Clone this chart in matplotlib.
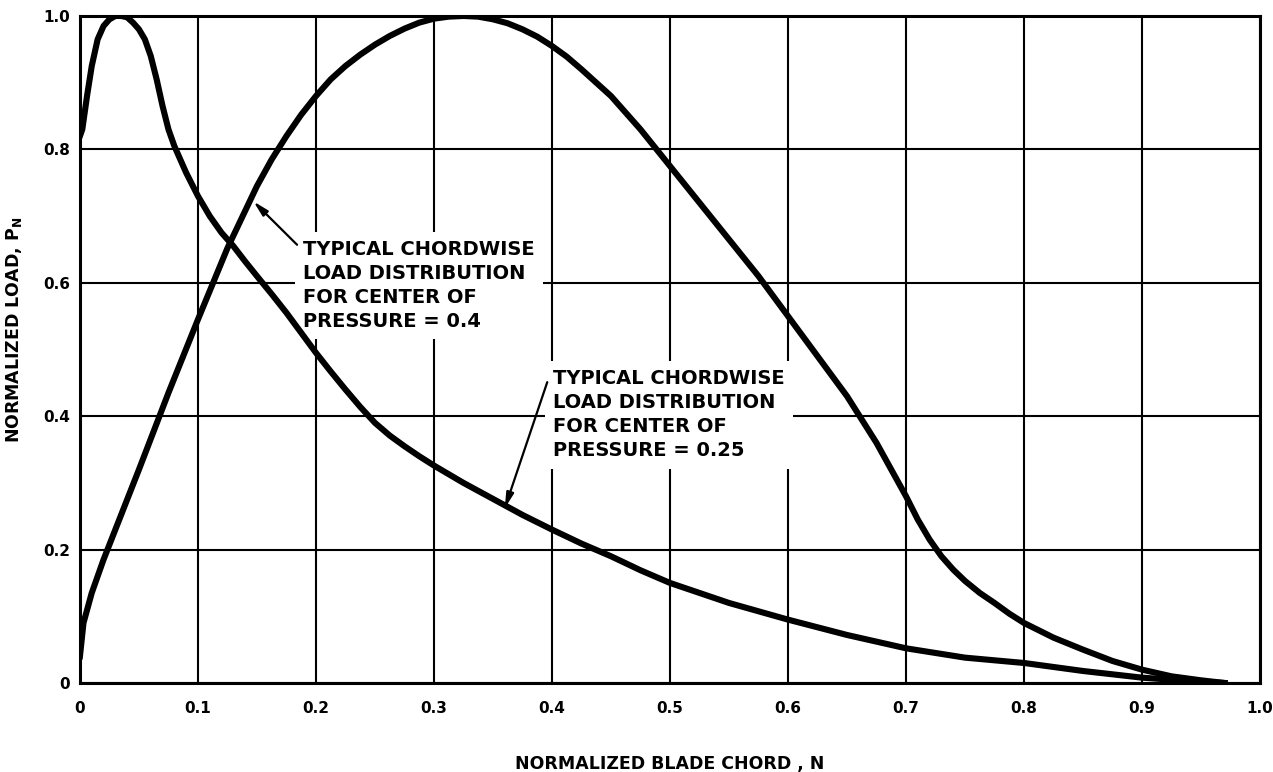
import numpy as np
import matplotlib
matplotlib.use("Agg")
import matplotlib.pyplot as plt

# chordwise load distribution, centre of pressure = 0.25 (front loaded)
x_cp25 = [0, 0.002, 0.006, 0.01, 0.015, 0.02, 0.025, 0.03, 0.035, 0.04, 0.045,
          0.05, 0.055, 0.06, 0.065, 0.07, 0.075, 0.08, 0.09, 0.1, 0.11, 0.12,
          0.13, 0.14, 0.15, 0.1625, 0.175, 0.1875, 0.2, 0.2125, 0.225, 0.2375,
          0.25, 0.2625, 0.275, 0.2875, 0.3, 0.325, 0.35, 0.375, 0.4, 0.425,
          0.45, 0.475, 0.5, 0.55, 0.6, 0.65, 0.7, 0.75, 0.8, 0.85, 0.9, 0.94, 0.97]
p_cp25 = [0.82, 0.83, 0.88, 0.925, 0.965, 0.985, 0.995, 1.0, 1.0, 0.998, 0.99,
          0.98, 0.965, 0.94, 0.905, 0.865, 0.83, 0.805, 0.765, 0.73, 0.70, 0.675,
          0.655, 0.632, 0.61, 0.583, 0.555, 0.525, 0.495, 0.467, 0.44, 0.414,
          0.39, 0.371, 0.355, 0.34, 0.326, 0.3, 0.276, 0.252, 0.23, 0.209,
          0.19, 0.169, 0.15, 0.12, 0.095, 0.072, 0.052, 0.038, 0.03, 0.018, 0.008, 0.003, 0.0]

# chordwise load distribution, centre of pressure = 0.4
x_cp40 = [0, 0.003, 0.01, 0.02, 0.03, 0.05, 0.075, 0.1, 0.125, 0.15, 0.1625,
          0.175, 0.1875, 0.2, 0.2125, 0.225, 0.2375, 0.25, 0.2625, 0.275, 0.2875,
          0.3, 0.3125, 0.325, 0.3375, 0.35, 0.3625, 0.375, 0.3875, 0.4, 0.4125,
          0.425, 0.4375, 0.45, 0.475, 0.5, 0.525, 0.55, 0.575, 0.6, 0.625, 0.65,
          0.675, 0.7, 0.71, 0.72, 0.73, 0.74, 0.75, 0.7625, 0.775, 0.7875, 0.8,
          0.825, 0.85, 0.875, 0.9, 0.925, 0.95, 0.97]
p_cp40 = [0.04, 0.09, 0.135, 0.185, 0.23, 0.32, 0.435, 0.545, 0.652, 0.745, 0.785,
          0.82, 0.852, 0.88, 0.905, 0.925, 0.942, 0.957, 0.97, 0.981, 0.99,
          0.996, 0.999, 1.0, 0.999, 0.995, 0.989, 0.98, 0.969, 0.955, 0.939,
          0.92, 0.9, 0.88, 0.83, 0.775, 0.72, 0.665, 0.61, 0.55, 0.49, 0.43,
          0.36, 0.28, 0.245, 0.215, 0.19, 0.17, 0.153, 0.135, 0.12, 0.104, 0.09,
          0.068, 0.05, 0.033, 0.02, 0.01, 0.004, 0.0]

x_ticks = [0, 0.1, 0.2, 0.3, 0.4, 0.5, 0.6, 0.7, 0.8, 0.9, 1.0]
x_ticklabels = ["0", "0.1", "0.2", "0.3", "0.4", "0.5", "0.6", "0.7", "0.8", "0.9", "1.0"]
y_ticks = [0, 0.2, 0.4, 0.6, 0.8, 1.0]
y_ticklabels = ["0", "0.2", "0.4", "0.6", "0.8", "1.0"]

label_cp40 = "TYPICAL CHORDWISE\nLOAD DISTRIBUTION\nFOR CENTER OF\nPRESSURE = 0.4"
label_cp25 = "TYPICAL CHORDWISE\nLOAD DISTRIBUTION\nFOR CENTER OF\nPRESSURE = 0.25"

plt.rcParams["font.family"] = ["DejaVu Sans"]
plt.rcParams["font.weight"] = "bold"

fig = plt.figure(figsize=(12.73, 7.72), dpi=100)
ax = fig.add_axes([0.0628, 0.1153, 0.9270, 0.8640])

ax.plot(x_cp25, p_cp25, color="black", lw=4.4, solid_joinstyle="round", zorder=5)
ax.plot(x_cp40, p_cp40, color="black", lw=4.4, solid_joinstyle="round", zorder=5)

ax.set_xlim(0, 1.0)
ax.set_ylim(0, 1.0)
ax.set_xticks(x_ticks)
ax.set_xticklabels(x_ticklabels)
ax.set_yticks(y_ticks)
ax.set_yticklabels(y_ticklabels)
ax.tick_params(length=0, labelsize=11)
ax.tick_params(axis="x", pad=13)
ax.tick_params(axis="y", pad=7)
ax.grid(True, color="black", lw=1.5)
ax.set_axisbelow(True)
for s in ax.spines.values():
    s.set_linewidth(2.2)

ax.set_xlabel("NORMALIZED BLADE CHORD , N", fontsize=12.5, fontweight="bold", labelpad=28)
ax.set_ylabel("NORMALIZED LOAD, P$_\\mathbf{N}$", fontsize=12.5, fontweight="bold")
ax.yaxis.set_label_coords(-0.047, 0.53)

box = dict(facecolor="white", edgecolor="none", pad=6)
ax.text(0.189, 0.664, label_cp40, fontsize=14, fontweight="bold", va="top", ha="left",
        linespacing=1.33, bbox=box, zorder=3)
ax.text(0.401, 0.470, label_cp25, fontsize=14, fontweight="bold", va="top", ha="left",
        linespacing=1.33, bbox=box, zorder=3)

arrow = dict(arrowstyle="-|>,head_length=0.9,head_width=0.22", color="black", lw=1.6,
             shrinkA=0, shrinkB=0)
ax.annotate("", xy=(0.147, 0.722), xytext=(0.184, 0.657), arrowprops=arrow, zorder=6)
ax.annotate("", xy=(0.36, 0.262), xytext=(0.396, 0.451), arrowprops=arrow, zorder=6)

fig.savefig("out.png", dpi=100)
